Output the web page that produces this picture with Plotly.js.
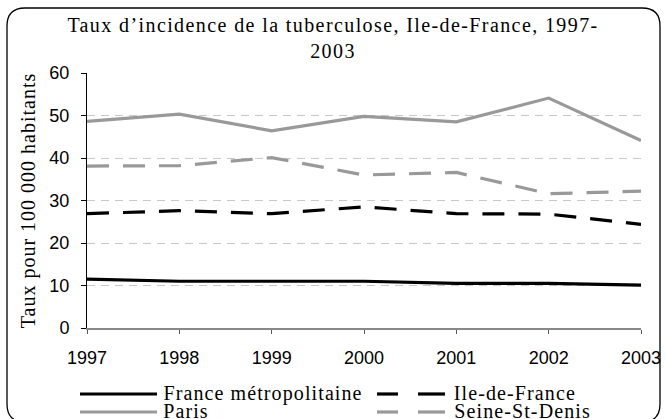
<!DOCTYPE html>
<html><head><meta charset="utf-8">
<script src="https://cdn.plot.ly/plotly-3.0.1.min.js"></script>
<style>html,body{margin:0;padding:0;background:#fff}#c{width:666px;height:419px}
#c text.gtitle{letter-spacing:1.4px}
#c text.ytitle{letter-spacing:1.0px}
#c text.annotation-text{letter-spacing:1.1px}
</style>
</head><body><div id="c"></div>
<script>
const years = [1997, 1998, 1999, 2000, 2001, 2002, 2003];
const seriesNames = ["France métropolitaine", "Ile-de-France", "Paris", "Seine-St-Denis"];
const franceMetro = [11.5, 11.0, 11.0, 11.0, 10.5, 10.5, 10.1];
const ileDeFrance = [26.9, 27.6, 26.9, 28.5, 26.9, 26.8, 24.4];
const paris = [48.6, 50.3, 46.4, 49.8, 48.5, 54.1, 44.1];
const seineStDenis = [38.1, 38.2, 40.1, 36.0, 36.6, 31.6, 32.2];
const yTicks = [0, 10, 20, 30, 40, 50, 60];

const W = 666, H = 419, L = 87, R = 25, T = 73, B = 91;
const pw = W - L - R, ph = H - T - B;
const px = x => (x - L) / pw;
const py = y => (H - B - y) / ph;
const SERIF = "'Liberation Serif', 'Times New Roman', serif";
const SANS = "'Liberation Sans', Arial, sans-serif";
const LEG_LS = 1.1;

const styles = [
  {color: "#000000", dash: "solid"},
  {color: "#000000", dash: "22px,14px"},
  {color: "#999999", dash: "solid"},
  {color: "#999999", dash: "22px,14px"}
];
const values = [franceMetro, ileDeFrance, paris, seineStDenis];

const traces = values.map((v, i) => ({
  x: years, y: v, name: seriesNames[i], type: "scatter", mode: "lines",
  line: {color: styles[i].color, dash: styles[i].dash, width: 3.2},
  showlegend: false, hoverinfo: "skip"
}));

function roundRect(x0, y0, x1, y1, r) {
  const X = v => px(v), Y = v => py(v);
  return `M ${X(x0 + r)},${Y(y0)} L ${X(x1 - r)},${Y(y0)} Q ${X(x1)},${Y(y0)} ${X(x1)},${Y(y0 + r)} ` +
         `L ${X(x1)},${Y(y1 - r)} Q ${X(x1)},${Y(y1)} ${X(x1 - r)},${Y(y1)} ` +
         `L ${X(x0 + r)},${Y(y1)} Q ${X(x0)},${Y(y1)} ${X(x0)},${Y(y1 - r)} ` +
         `L ${X(x0)},${Y(y0 + r)} Q ${X(x0)},${Y(y0)} ${X(x0 + r)},${Y(y0)} Z`;
}

const shapes = [{
  type: "path", xref: "paper", yref: "paper", path: roundRect(7, 8, 660, 422, 18),
  line: {color: "#000", width: 1.3}, fillcolor: "rgba(0,0,0,0)", layer: "below"
}];
const annotations = [];
const legendPos = [
  {segs: [[80, 157]], y: 394, tx: 161},
  {segs: [[377, 398], [418, 445]], y: 394, tx: 452},
  {segs: [[80, 157]], y: 412, tx: 161},
  {segs: [[377, 398], [418, 445]], y: 412, tx: 452}
];
seriesNames.forEach((n, i) => {
  const p = legendPos[i];
  p.segs.forEach(s => shapes.push({type: "line", xref: "paper", yref: "paper",
    x0: px(s[0]), x1: px(s[1]), y0: py(p.y), y1: py(p.y),
    line: {color: styles[i].color, width: 3.2}}));
  annotations.push({xref: "paper", yref: "paper", x: px(p.tx), y: py(p.y - 1),
    xanchor: "left", yanchor: "middle", showarrow: false, text: n,
    xshift: n.length * LEG_LS / 2,
    font: {family: SERIF, size: 20, color: "#000"}});
});

const layout = {
  width: W, height: H,
  margin: {l: L, r: R, t: T, b: B},
  paper_bgcolor: "#fff", plot_bgcolor: "#fff",
  title: {text: "Taux d’incidence de la tuberculose, Ile-de-France, 1997-<br>2003",
    x: 0.5, xref: "container", xanchor: "center", y: 1 - 32 / H, yref: "container", yanchor: "top",
    font: {family: SERIF, size: 20, color: "#000"}},
  xaxis: {
    range: [1997, 2003], tickvals: years, ticktext: years.map(String),
    showgrid: false, zeroline: false, showline: true, linecolor: "#888", linewidth: 2,
    ticks: "outside", ticklen: 4, tickcolor: "#555", tickwidth: 1,
    ticklabelstandoff: 8,
    tickfont: {family: SANS, size: 18, color: "#000"},
    fixedrange: true
  },
  yaxis: {
    range: [0, 60], tickvals: yTicks, ticktext: yTicks.map(String),
    showgrid: true, gridcolor: "#c8c8c8", gridwidth: 1, griddash: "8px,6px",
    zeroline: false, showline: true, linecolor: "#000", linewidth: 1,
    ticks: "outside", ticklen: 5, tickcolor: "#000", tickwidth: 1,
    ticklabelstandoff: 8,
    tickfont: {family: SANS, size: 18, color: "#000"},
    title: {text: "Taux pour 100 000 habitants", standoff: 8,
      font: {family: SERIF, size: 20, color: "#000"}},
    automargin: false, fixedrange: true
  },
  shapes: shapes, annotations: annotations, showlegend: false
};
Plotly.newPlot("c", traces, layout, {staticPlot: true, displayModeBar: false});
</script></body></html>
